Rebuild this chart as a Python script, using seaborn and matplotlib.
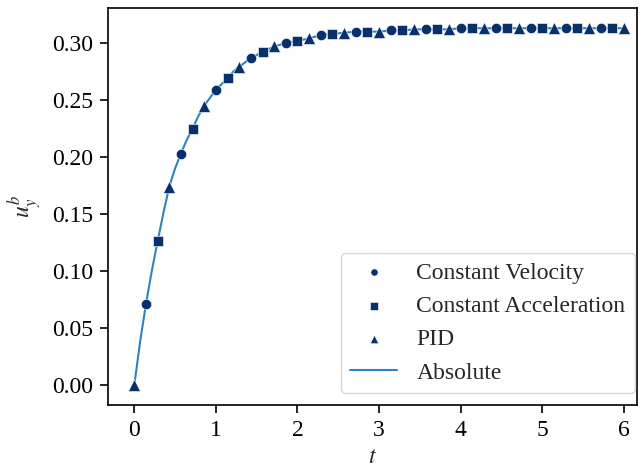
import numpy as np
import pandas as pd
import matplotlib
matplotlib.use("Agg")
import matplotlib.pyplot as plt
import seaborn as sns

# ---- data ----
t_step = 1.0 / 7.0
# values at t = k/7, k = 0..42
u_values = [0.000, 0.071, 0.126, 0.174, 0.203, 0.225, 0.245, 0.259, 0.269, 0.279,
            0.287, 0.292, 0.297, 0.300, 0.302, 0.304, 0.307, 0.308, 0.309, 0.310,
            0.310, 0.310, 0.311, 0.311, 0.312, 0.312, 0.312, 0.312, 0.313, 0.313,
            0.313, 0.313, 0.313, 0.313, 0.313, 0.313, 0.313, 0.313, 0.313, 0.313,
            0.313, 0.313, 0.313]
# extra points of the "Absolute" curve at half steps in the fast-rising part
abs_mid_t = [0.5, 1.5, 2.5, 3.5, 4.5, 5.5, 6.5, 7.5, 8.5, 9.5]   # in units of 1/7
abs_mid_u = [0.038, 0.100, 0.151, 0.190, 0.215, 0.236, 0.252, 0.264, 0.275, 0.283]

series_names = ["Constant Velocity", "Constant Acceleration", "PID"]
series_offsets = [1, 2, 0]      # which k (mod 3) each method is shown at
series_markers = ["o", "s", "^"]
series_sizes = [55, 55, 75]

k_all = np.arange(len(u_values))
t_all = k_all * t_step

abs_t = np.concatenate([t_all, np.array(abs_mid_t) * t_step])
abs_u = np.concatenate([u_values, abs_mid_u])
order = np.argsort(abs_t)
df_abs = pd.DataFrame({"t": abs_t[order], "u": abs_u[order]})

sns.set_style("ticks")
plt.rcParams["font.family"] = ["Liberation Serif", "DejaVu Serif"]
plt.rcParams["mathtext.fontset"] = "stix"

fig = plt.figure(figsize=(6.44, 4.73), dpi=100)
ax = fig.add_axes([0.168, 0.144, 0.821, 0.839])

marker_color = "#08306b"
line_color = "#3182bd"

for name, off, mk, sz in zip(series_names, series_offsets, series_markers, series_sizes):
    sel = k_all % 3 == off
    df = pd.DataFrame({"t": t_all[sel], "u": np.array(u_values)[sel]})
    sns.scatterplot(data=df, x="t", y="u", marker=mk, s=sz, color=marker_color,
                    edgecolor="white", linewidth=0.4, ax=ax, label=name, zorder=3)

sns.lineplot(data=df_abs, x="t", y="u", color=line_color, linewidth=1.5, ax=ax,
             label="Absolute", zorder=2)

ax.set_xlabel("$t$", fontsize=17, labelpad=4)
ax.set_ylabel("$u_y^b$", fontsize=17, labelpad=6)
ax.set_xticks([0, 1, 2, 3, 4, 5, 6])
ax.set_yticks([0.0, 0.05, 0.10, 0.15, 0.20, 0.25, 0.30])
ax.set_yticklabels(["0.00", "0.05", "0.10", "0.15", "0.20", "0.25", "0.30"])
ax.tick_params(labelsize=17, direction="out", length=6, width=1.2, pad=5,
               colors="black")
for sp in ax.spines.values():
    sp.set_linewidth(1.2)
    sp.set_color("black")
ax.set_xlim(-0.32, 6.16)
ax.set_ylim(-0.0175, 0.3307)

leg = ax.legend(loc="lower right", bbox_to_anchor=(0.996, 0.030), borderaxespad=0,
                fontsize=17, markerscale=0.7, frameon=True,
                handlelength=2.0, labelspacing=0.5)
leg.get_frame().set_edgecolor("#cccccc")

fig.savefig("out.png", dpi=100)
